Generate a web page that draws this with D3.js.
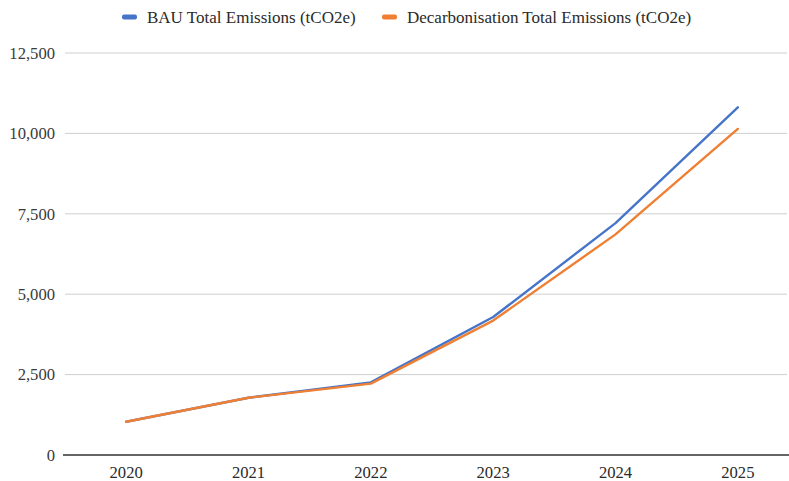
<!DOCTYPE html>
<html><head><meta charset="utf-8">
<script src="https://cdn.jsdelivr.net/npm/d3@7"></script>
<style>html,body{margin:0;padding:0;background:#fff;}svg{display:block;}</style>
</head><body>
<svg id="chart" width="789" height="481"></svg>
<script>
const years = ["2020","2021","2022","2023","2024","2025"];
const bauValues = [1035, 1780, 2260, 4290, 7210, 10810];
const decarbValues = [1035, 1780, 2220, 4180, 6860, 10140];
const yTicks = [0, 2500, 5000, 7500, 10000, 12500];
const seriesNames = ["BAU Total Emissions (tCO2e)", "Decarbonisation Total Emissions (tCO2e)"];
const seriesColors = ["#4674c9", "#ef7f33"];

(function () {
const svg = d3.select("#chart");
const font = "'Liberation Serif','Times New Roman',serif";
const pLeft = 65, pRight = 787, pTop = 53, pBottom = 455;

const x = d3.scalePoint().domain(years).range([pLeft, 799]).padding(0.5);
const y = d3.scaleLinear().domain([0, 12500]).range([pBottom, pTop]);

// grid
svg.append("g").selectAll("line").data(yTicks.filter(d => d > 0)).join("line")
  .attr("x1", pLeft).attr("x2", pRight)
  .attr("y1", d => y(d)).attr("y2", d => y(d))
  .attr("stroke", "#cfcfcf").attr("stroke-width", 1);

// y labels
svg.append("g").selectAll("text").data(yTicks).join("text")
  .attr("x", 55).attr("y", d => y(d)).attr("dy", "0.35em")
  .attr("text-anchor", "end")
  .attr("font-family", font).attr("font-size", 16.6).attr("fill", "#3a3a3a")
  .text(d => d3.format(",")(d));

// x axis line
svg.append("line").attr("x1", 63).attr("x2", 789).attr("y1", y(0)).attr("y2", y(0))
  .attr("stroke", "#333").attr("stroke-width", 1.3);

// x labels
svg.append("g").selectAll("text").data(years).join("text")
  .attr("x", d => x(d)).attr("y", 472).attr("dy", "0.35em")
  .attr("text-anchor", "middle")
  .attr("font-family", font).attr("font-size", 16.6).attr("fill", "#2a2a2a")
  .text(d => d);

// lines
const line = d3.line().x((d, i) => x(years[i])).y(d => y(d));
[bauValues, decarbValues].forEach((vals, i) => {
  svg.append("path").datum(vals)
    .attr("d", line).attr("fill", "none")
    .attr("stroke", seriesColors[i]).attr("stroke-width", 2.4)
    .attr("stroke-linejoin", "round").attr("stroke-linecap", "round");
});

// legend
const legendX = [122, 382];
seriesNames.forEach((name, i) => {
  const g = svg.append("g").attr("transform", `translate(${legendX[i]},17)`);
  g.append("rect").attr("x", 0).attr("y", -2.5).attr("width", 15).attr("height", 5).attr("rx", 2)
    .attr("fill", seriesColors[i]);
  g.append("text").attr("x", 25).attr("y", 0).attr("dy", "0.35em")
    .attr("font-family", font).attr("font-size", 17).attr("fill", "#2a2a2a")
    .text(name);
});
})();
</script>
</body></html>
